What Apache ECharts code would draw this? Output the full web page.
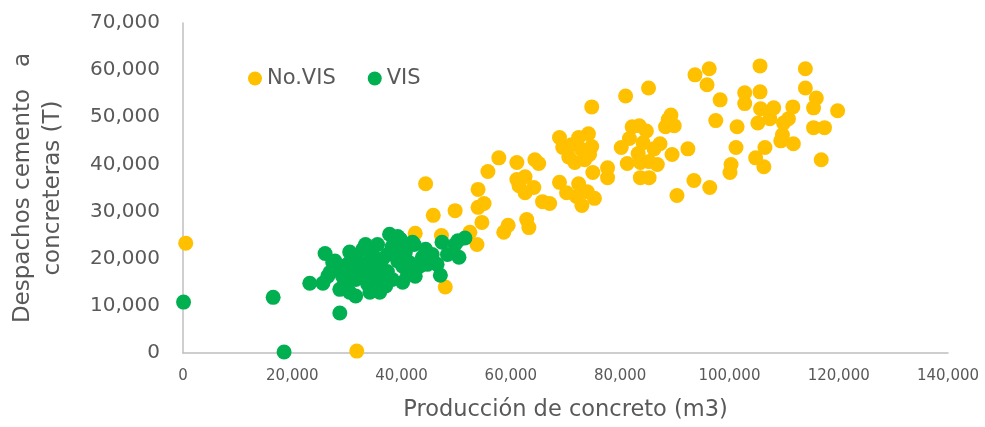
<!DOCTYPE html>
<html>
<head>
<meta charset="utf-8">
<script src="https://cdn.jsdelivr.net/npm/echarts@6/dist/echarts.min.js"></script>
<style>html,body{margin:0;padding:0;background:#fff}#c{width:985px;height:427px}</style>
</head>
<body>
<div id="c"></div>
<script>
const seriesNames = ["No.VIS", "VIS"];
const xAxisTitle = "Producción de concreto (m3)";
const yAxisTitle = "Despachos cemento   a\nconcreteras (T)";

// No.VIS: [producción m3, despachos T]
const noVis = [
  [500,23300],[31800,400],[44400,35900],[42500,25400],[47300,24900],[52500,25600],[53800,23000],
  [48000,14000],[45800,29200],[49800,30200],[54000,34700],[55100,31700],[54000,30900],[54700,27700],
  [55800,38500],[57800,41400],[59500,27100],[58700,25600],[62900,28300],[63300,26600],[61100,40400],
  [64400,41000],[65100,40200],[61100,36800],[62600,37400],[61500,35500],[64200,35100],[62600,34000],
  [65800,32100],[67100,31700],[68900,36200],[70200,34000],[72400,35900],[72000,33200],[74000,34200],
  [73000,31300],[75300,32800],[68900,45700],[74200,46500],[72400,45700],[74800,43800],[69500,43600],
  [70600,41600],[71700,40400],[73500,41000],[74400,42100],[71100,44200],[73000,43100],[74800,52200],
  [77700,39300],[77700,37200],[75000,38300],[81000,54500],[85200,56200],[89300,50500],[88800,49500],
  [88300,48000],[89900,48200],[82200,48000],[83500,48200],[84800,47100],[81700,45500],[80200,43600],
  [84200,44600],[87300,44400],[86200,43300],[83300,42300],[89500,42100],[81300,40200],[83700,40400],
  [85300,40600],[86800,40000],[83700,37200],[85300,37200],[92400,43300],[93500,36600],[96400,35100],
  [90400,33400],[93700,59000],[96300,60300],[95900,56900],[105600,60900],[113900,60300],[113900,56200],
  [115900,54100],[115400,52000],[119800,51400],[98300,53700],[102800,55200],[105600,55400],[102800,52900],
  [105700,51800],[108100,52000],[111600,52200],[105200,48800],[107400,49700],[109900,48800],[110800,49700],
  [97500,49300],[101400,48000],[115400,47800],[117400,47800],[109700,46300],[109400,45000],[111700,44400],
  [101200,43600],[106500,43600],[104800,41400],[106300,39500],[100300,40000],[100100,38300],[116800,41000]
];

// VIS: [producción m3, despachos T]
const vis = [
  [100,10800],[16500,11800],[18500,200],[28700,8500],[23200,14800],[25600,14800],[26000,21100],
  [27400,19200],[26500,16300],[28700,13500],[30500,12900],[31600,12100],[34200,12900],[31100,20500],
  [33400,23000],[37800,25200],[39300,24700],[42000,23500],[44400,22000],[47400,23500],[50300,23800],
  [51600,24400],[49800,23000],[45600,20900],[50500,20300],[47100,16500],[40200,15000],[42500,16300],
  [43300,18400],[37100,14200],[40200,18400],[34200,18400],[31600,15600],[36500,19900],[36000,16300],
  [40700,21400],[38900,22000],[29200,16300],[32900,17800],[28000,17800],[38300,22600],[42300,23000],
  [27800,19500],[30500,21400],[26900,17100],[36000,12900],[30100,18800],[32000,19500],[34700,20900],
  [35100,15600],[37400,17300],[39300,19500],[41100,16700],[38300,15600],[33800,14600],[32900,22000],
  [35600,23000],[29600,15000],[43800,20300],[48400,20900],[46500,18800],[37400,20900],[39800,24100],
  [41400,19200],[44700,18800],[31100,17300],[33200,16300],[35600,18200],[34300,19900]
];

const xMin = 0, xMax = 140000, xStep = 20000;
const yMin = 0, yMax = 70000, yStep = 10000;

const font = "'DejaVu Sans', sans-serif";
const textColor = "#595959";
const fmt = v => v.toLocaleString('en-US');

const chart = echarts.init(document.getElementById('c'), null, {renderer: 'canvas'});
chart.setOption({
  animation: false,
  backgroundColor: '#ffffff',
  textStyle: {fontFamily: font, color: textColor},
  grid: {left: 179, right: 37, top: 23, bottom: 73, containLabel: false},
  legend: {
    data: seriesNames,
    left: 243, top: 63,
    icon: 'circle', itemWidth: 14, itemHeight: 14, itemGap: 32,
    textStyle: {fontFamily: font, fontSize: 21, color: textColor}
  },
  xAxis: {
    type: 'value', min: xMin, max: xMax, interval: xStep,
    name: xAxisTitle, nameLocation: 'middle', nameGap: 46,
    nameTextStyle: {fontFamily: font, fontSize: 22.5, color: textColor},
    axisLine: {show: true, lineStyle: {color: '#BFBFBF', width: 1.5}},
    axisTick: {show: false},
    splitLine: {show: false},
    axisLabel: {fontFamily: font, fontSize: 15, color: textColor, margin: 16, formatter: fmt}
  },
  yAxis: {
    type: 'value', min: yMin, max: yMax, interval: yStep,
    name: yAxisTitle, nameLocation: 'middle', nameGap: 115, nameRotate: 90,
    nameTextStyle: {fontFamily: font, fontSize: 23, color: textColor, lineHeight: 30},
    axisLine: {show: true, lineStyle: {color: '#BFBFBF', width: 1.5}},
    axisTick: {show: false},
    splitLine: {show: false},
    axisLabel: {fontFamily: font, fontSize: 20, color: textColor, margin: 23, formatter: fmt}
  },
  series: [
    {name: seriesNames[0], type: 'scatter', data: noVis, symbolSize: 15,
     itemStyle: {color: '#FFC000', opacity: 1}},
    {name: seriesNames[1], type: 'scatter', data: vis, symbolSize: 15,
     itemStyle: {color: '#00B050', opacity: 1}}
  ]
});
</script>
</body>
</html>
